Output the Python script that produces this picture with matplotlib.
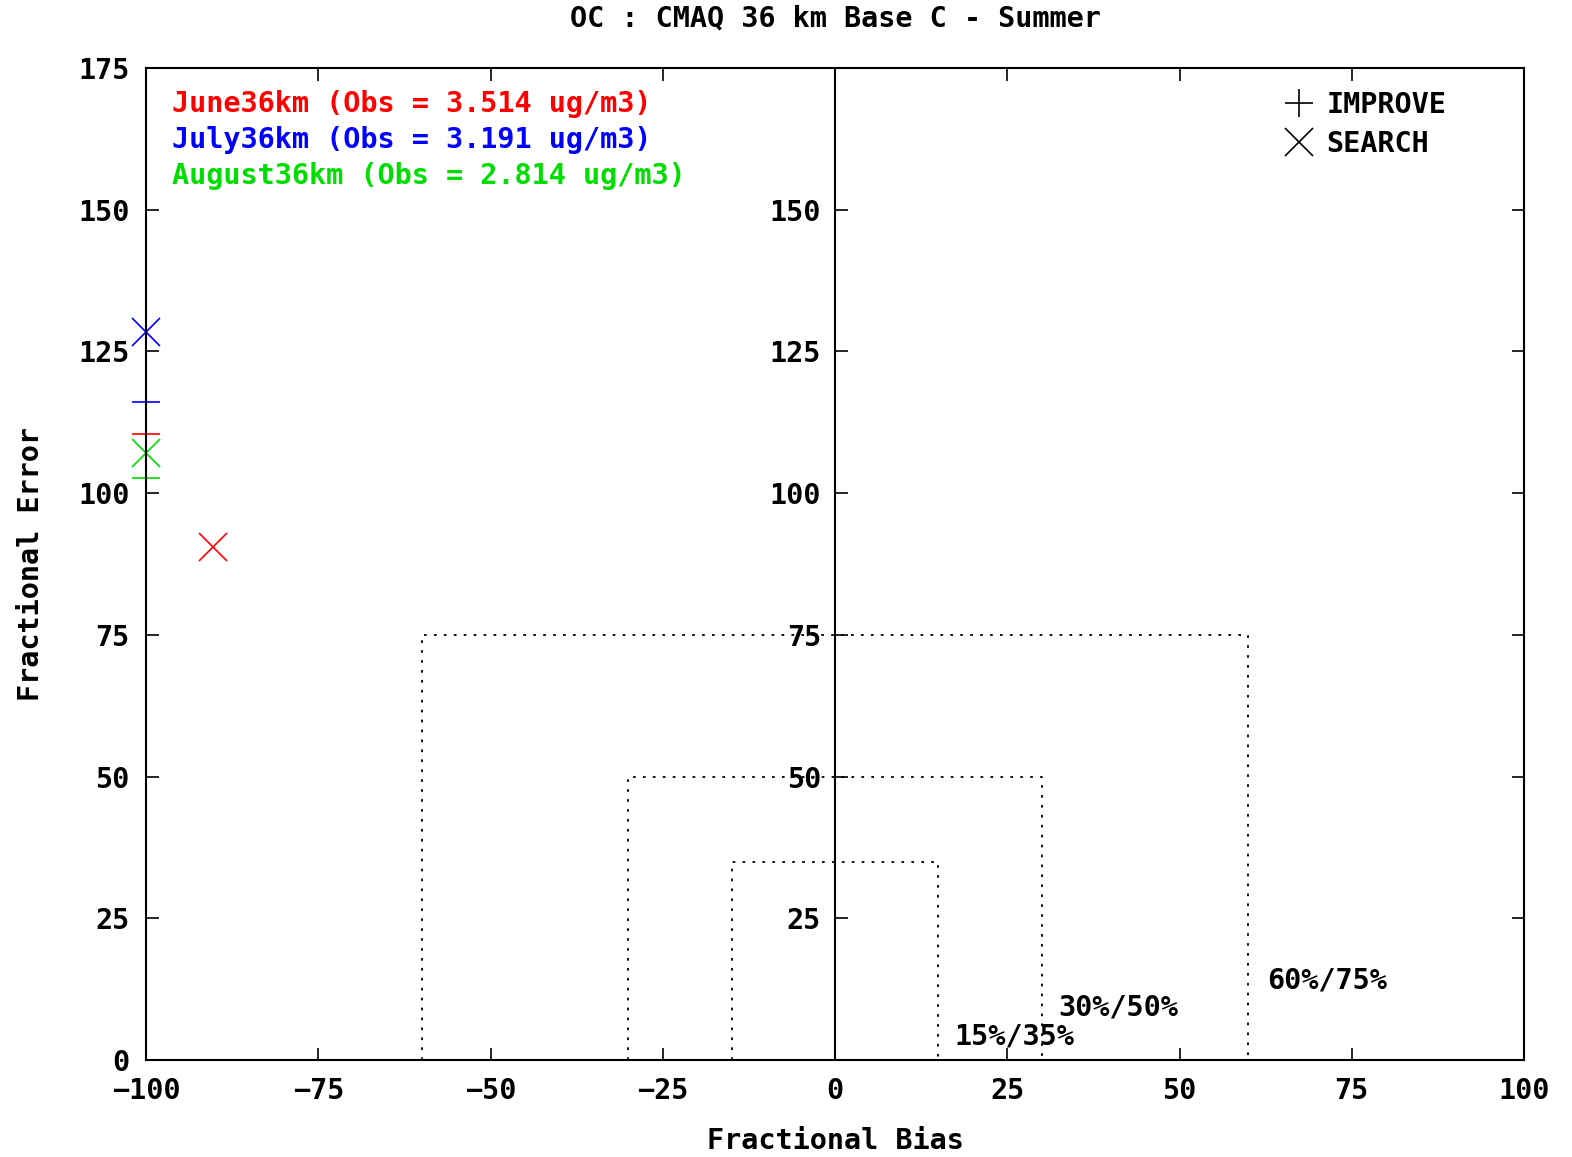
"""
OC soccer-goal plot: fractional bias vs fractional error, CMAQ 36 km summer.
"""

import matplotlib
matplotlib.use('Agg')
import matplotlib.pyplot as plt
from matplotlib.lines import Line2D

# Data
months = ['June36km', 'July36km', 'August36km']
obs_means = ['3.514', '3.191', '2.814']
colors = ['#ff0000', '#0000ff', '#00dd00']

# IMPROVE network (+)
improve_fb = [-100.0, -100.0, -100.0]
improve_fe = [110.5, 116.1, 102.7]
# SEARCH network (x)
search_fb = [-90.3, -100.0, -100.0]
search_fe = [90.5, 128.4, 107.1]

# goal boxes: (bias limit, error limit, label)
goal_bias = [15, 30, 60]
goal_error = [35, 50, 75]
goal_labels = ['15%/35%', '30%/50%', '60%/75%']
goal_label_pos = [(17.3, 4.2), (32.4, 9.3), (62.7, 14.1)]

plt.rcParams['font.family'] = ['DejaVu Sans Mono']
plt.rcParams['font.weight'] = 'bold'
FS = 20.5

fig = plt.figure(figsize=(15.72, 11.57), dpi=100)
ax = fig.add_axes([146 / 1572, 97 / 1157, 1378 / 1572, 992 / 1157])

ax.set_xlim(-100, 100)
ax.set_ylim(0, 175)
ax.set_xticks(range(-100, 101, 25))
ax.set_yticks(range(0, 176, 25))
ax.tick_params(direction='in', length=9, width=1.2, top=True, right=True,
               labelsize=FS, pad=12)
for lab in ax.get_xticklabels() + ax.get_yticklabels():
    lab.set_fontweight('bold')
for sp in ax.spines.values():
    sp.set_linewidth(1.5)

# middle axis at zero bias
ax.axvline(0, color='black', lw=1.5, zorder=2.6)
mid = ax.secondary_yaxis(0.5)
mid.set_yticks(range(25, 151, 25))
mid.yaxis.set_ticks_position('left')
mid.tick_params(direction='in', length=9, width=1.2, labelsize=FS, pad=10,
                left=True, labelleft=True, right=False, labelright=False)
for sp in mid.spines.values():
    sp.set_visible(False)
for lab in mid.get_yticklabels():
    lab.set_fontweight('bold')

# goal boxes
for b, e, lab, (lx, ly) in zip(goal_bias, goal_error, goal_labels, goal_label_pos):
    ax.plot([-b, -b, b, b], [0, e, e, 0], color='black', lw=1.3,
            linestyle=(0, (1.5, 4)), zorder=2)
    ax.text(lx, ly, lab, fontsize=FS, fontweight='bold', ha='left', va='center')

# points
for i in range(len(months)):
    ax.plot(improve_fb[i], improve_fe[i], marker='+', ms=20, mew=1.2,
            color=colors[i], linestyle='none', clip_on=False, zorder=2.2)
    ax.plot(search_fb[i], search_fe[i], marker='x', ms=20, mew=1.2,
            color=colors[i], linestyle='none', clip_on=False, zorder=2.2)

# month labels
label_y = [0.964, 0.927, 0.891]
for i in range(len(months)):
    ax.text(0.019, label_y[i], f'{months[i]} (Obs = {obs_means[i]} ug/m3)',
            transform=ax.transAxes, color=colors[i], fontsize=FS,
            fontweight='bold', ha='left', va='center')

# network legend
handles = [Line2D([], [], marker='+', ms=20, mew=1.2, color='black', linestyle='none'),
           Line2D([], [], marker='x', ms=20, mew=1.2, color='black', linestyle='none')]
ax.legend(handles, ['IMPROVE', 'SEARCH'], loc='upper right', frameon=False,
          prop={'size': FS, 'weight': 'bold'}, handlelength=1.2,
          handletextpad=0.35, labelspacing=0.4,
          bbox_to_anchor=(0.958, 0.997), borderaxespad=0.3)

ax.set_xlabel('Fractional Bias', fontsize=FS, fontweight='bold', labelpad=16)
ax.set_ylabel('Fractional Error', fontsize=FS, fontweight='bold', labelpad=24)
fig.text(835 / 1572, 1 - 18 / 1157, 'OC : CMAQ 36 km Base C - Summer', fontsize=FS,
         fontweight='bold', ha='center', va='center')

fig.savefig('out.png', dpi=100)
